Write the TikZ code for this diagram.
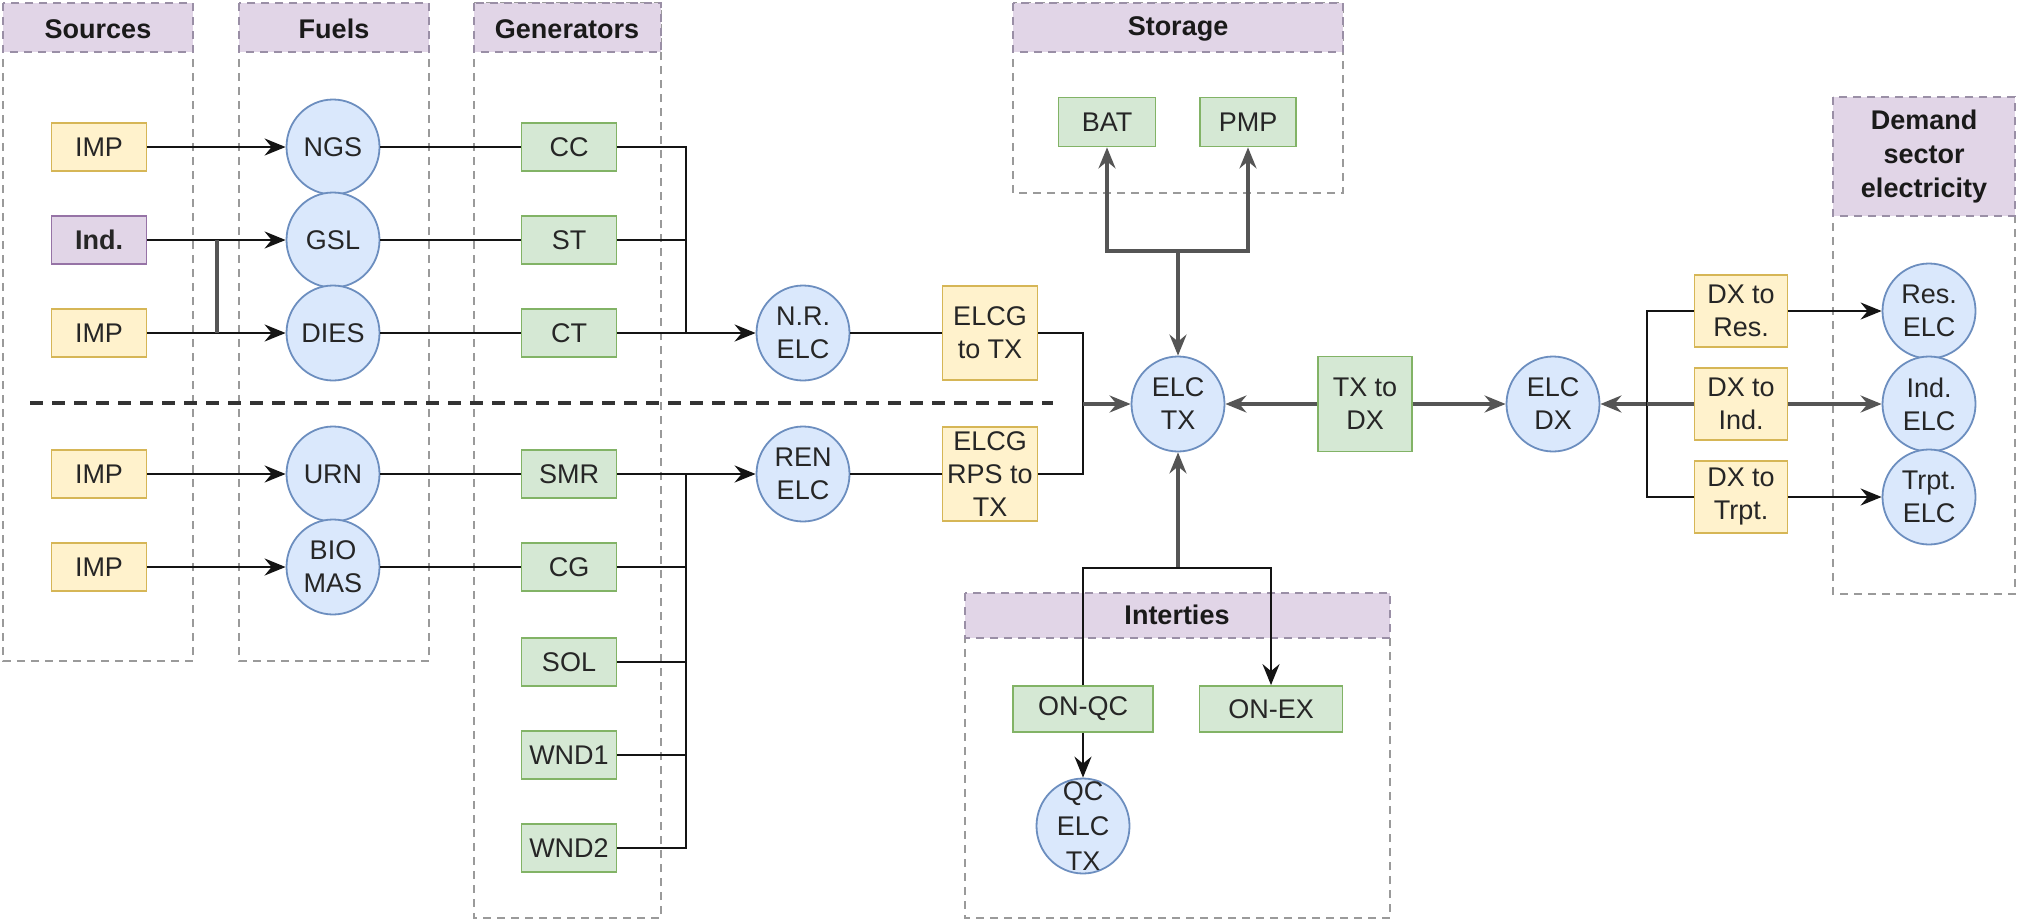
\documentclass[tikz,border=0pt]{standalone}
\usepackage{fontspec}
\setmainfont{Liberation Sans}
\usetikzlibrary{shapes.geometric,arrows.meta}
\definecolor{ylwfill}{HTML}{FFF2CC}
\definecolor{ylwline}{HTML}{D6B656}
\definecolor{grnfill}{HTML}{D5E8D4}
\definecolor{grnline}{HTML}{82B366}
\definecolor{blufill}{HTML}{DAE8FC}
\definecolor{bluline}{HTML}{6C8EBF}
\definecolor{prpfill}{HTML}{E1D5E7}
\definecolor{prpline}{HTML}{9673A6}
\definecolor{lanec}{HTML}{9A9A9A}
\definecolor{headc}{HTML}{9A8FA6}
\definecolor{txt}{HTML}{262626}
\definecolor{headtxt}{HTML}{1A1A1A}
\definecolor{wirec}{HTML}{141414}
\definecolor{trunkc}{HTML}{555555}
\begin{document}
\begin{tikzpicture}[x=1pt,y=-1pt,
  every node/.style={font=\fontsize{27}{33}\selectfont, text=txt, align=center, inner sep=0pt},
  box/.style={rectangle, line width=1.8pt, minimum width=95pt, minimum height=48pt},
  srcbox/.style={box, fill=ylwfill, draw=ylwline},
  indbox/.style={box, fill=prpfill, draw=prpline, font=\fontsize{27}{33}\selectfont\bfseries},
  genbox/.style={box, fill=grnfill, draw=grnline},
  hub/.style={ellipse, fill=blufill, draw=bluline, line width=1.8pt, minimum width=93pt, minimum height=95pt},
  wire/.style={line width=2.4pt, draw=wirec},
  trunk/.style={line width=3.3pt, draw=trunkc},
  arrowed/.style={-{Stealth[length=21pt,width=17pt,inset=7pt]}},
  lane/.style={draw=lanec, line width=1.6pt, dash pattern=on 8pt off 6pt},
  lanehead/.style={fill=prpfill, draw=headc, line width=1.6pt, dash pattern=on 8pt off 6pt},
  headtext/.style={font=\fontsize{27}{34}\selectfont\bfseries, text=headtxt},
]
\useasboundingbox (0,0) rectangle (2018,921);

% ---- swimlanes ----
\draw[lane] (3,3) rectangle (193,661);
\draw[lanehead] (3,3) rectangle (193,52);
\node[headtext] (hsrc) at (98,29) {Sources};

\draw[lane] (239,3) rectangle (429,661);
\draw[lanehead] (239,3) rectangle (429,52);
\node[headtext] (hfuel) at (334,29) {Fuels};

\draw[lane] (474,3) rectangle (661,918);
\draw[lanehead] (474,3) rectangle (661,52);
\node[headtext] (hgen) at (567,29) {Generators};

\draw[lane] (1013,3) rectangle (1343,193);
\draw[lanehead] (1013,3) rectangle (1343,52);
\node[headtext] (hsto) at (1178,29) {Storage};

\draw[lane] (965,593) rectangle (1390,918);
\draw[lanehead] (965,593) rectangle (1390,638);
\node[headtext] (hint) at (1177,615) {Interties};

\draw[lane] (1833,97) rectangle (2015,594);
\draw[lanehead] (1833,97) rectangle (2015,216);
\node[headtext] (hdem) at (1924,157) {Demand\\sector\\electricity};

% non-renewable / renewable divider
\draw[line width=4pt, draw=black!80, dash pattern=on 13pt off 9pt] (30,403) -- (1053,403);

% ---- sources ----
\node[srcbox] (imp1) at (99,147) {IMP};
\node[indbox] (ind) at (99,240) {Ind.};
\node[srcbox] (imp2) at (99,333) {IMP};
\node[srcbox] (imp3) at (99,474) {IMP};
\node[srcbox] (imp4) at (99,567) {IMP};

% ---- fuels ----
\node[hub] (ngs) at (333,147) {NGS};
\node[hub] (gsl) at (333,240) {GSL};
\node[hub] (dies) at (333,333) {DIES};
\node[hub] (urn) at (333,474) {URN};
\node[hub] (bio) at (333,567) {BIO\\MAS};

% ---- generators ----
\node[genbox] (cc) at (569,147) {CC};
\node[genbox] (st) at (569,240) {ST};
\node[genbox] (ct) at (569,333) {CT};
\node[genbox] (smr) at (569,474) {SMR};
\node[genbox] (cg) at (569,567) {CG};
\node[genbox] (sol) at (569,662) {SOL};
\node[genbox] (wnd1) at (569,755) {WND1};
\node[genbox] (wnd2) at (569,848) {WND2};

% ---- generation to transmission ----
\node[hub] (nrelc) at (803,333) {N.R.\\ELC};
\node[hub] (renelc) at (803,474) {REN\\ELC};
\node[srcbox, minimum height=94pt] (elcg) at (990,333) {ELCG\\to TX};
\node[srcbox, minimum height=94pt] (rps) at (990,474) {ELCG\\RPS to\\TX};
\node[hub] (elctx) at (1178,404) {ELC\\TX};

% ---- storage ----
\node[genbox, minimum width=97pt, minimum height=49pt] (bat) at (1107,122) {BAT};
\node[genbox, minimum width=96pt, minimum height=49pt] (pmp) at (1248,122) {PMP};

% ---- distribution ----
\node[genbox, minimum width=94pt, minimum height=95pt] (txdx) at (1365,404) {TX to\\DX};
\node[hub] (elcdx) at (1553,404) {ELC\\DX};
\node[srcbox, minimum width=93pt, minimum height=72pt] (dxres) at (1741,311) {DX to\\Res.};
\node[srcbox, minimum width=93pt, minimum height=72pt] (dxind) at (1741,404) {DX to\\Ind.};
\node[srcbox, minimum width=93pt, minimum height=72pt] (dxtrpt) at (1741,497) {DX to\\Trpt.};
\node[hub] (reselc) at (1929,311) {Res.\\ELC};
\node[hub] (indelc) at (1929,404) {Ind.\\ELC};
\node[hub] (trptelc) at (1929,497) {Trpt.\\ELC};

% ---- interties ----
\node[genbox, minimum width=140pt, minimum height=46pt] (onqc) at (1083,709) {ON-QC};
\node[genbox, minimum width=143pt, minimum height=46pt] (onex) at (1271,709) {ON-EX};
\node[hub, label={[align=center, font=\fontsize{27}{35}\selectfont]center:QC\\ELC\\TX}] (qcelc) at (1083,826) {};

% ---- junction points ----
\coordinate (jInd) at (217,240);
\coordinate (jDies) at (217,333);
\coordinate (busA) at (686,333);
\coordinate (busB) at (686,474);
\coordinate (j2) at (1083,404);
\coordinate (js) at (1178,251);
\coordinate (ji) at (1178,568);
\coordinate (j3) at (1647,404);

% sources -> fuels
\draw[wire,arrowed] (imp1) -- (ngs);
\draw[wire,arrowed] (ind) -- (gsl);
\draw[wire,arrowed] (imp2) -- (dies);
\draw[trunk] (jInd) -- (jDies);
\draw[wire,arrowed] (imp3) -- (urn);
\draw[wire,arrowed] (imp4) -- (bio);

% fuels -> generators
\draw[wire] (ngs) -- (cc);
\draw[wire] (gsl) -- (st);
\draw[wire] (dies) -- (ct);
\draw[wire] (urn) -- (smr);
\draw[wire] (bio) -- (cg);

% generators -> electricity commodities
\draw[wire] (cc) -| (busA);
\draw[wire] (st) -- (st -| busA);
\draw[wire,arrowed] (ct) -- (nrelc);
\draw[wire] (wnd2) -| (busB);
\draw[wire] (cg) -- (cg -| busB);
\draw[wire] (sol) -- (sol -| busB);
\draw[wire] (wnd1) -- (wnd1 -| busB);
\draw[wire,arrowed] (smr) -- (renelc);

% to transmission
\draw[wire] (nrelc) -- (elcg);
\draw[wire] (renelc) -- (rps);
\draw[wire] (elcg) -| (j2);
\draw[wire] (rps) -| (j2);
\draw[trunk,arrowed] (j2) -- (elctx);

% storage
\draw[trunk,arrowed] (js) -- (elctx);
\draw[trunk,arrowed] (js) -| (bat);
\draw[trunk,arrowed] (js) -| (pmp);

% transmission <-> distribution
\draw[trunk,arrowed] (txdx) -- (elctx);
\draw[trunk,arrowed] (txdx) -- (elcdx);

% distribution -> demand sectors
\draw[trunk,arrowed] (j3) -- (elcdx);
\draw[wire] (dxres) -| (j3);
\draw[wire] (dxtrpt) -| (j3);
\draw[trunk] (dxind) -- (j3);
\draw[wire,arrowed] (dxres) -- (reselc);
\draw[trunk,arrowed] (dxind) -- (indelc);
\draw[wire,arrowed] (dxtrpt) -- (trptelc);

% interties
\draw[trunk,arrowed] (ji) -- (elctx);
\draw[wire] (ji) -| (onqc);
\draw[wire,arrowed] (ji) -| (onex);
\draw[wire,arrowed] (onqc) -- (qcelc);
\end{tikzpicture}
\end{document}
